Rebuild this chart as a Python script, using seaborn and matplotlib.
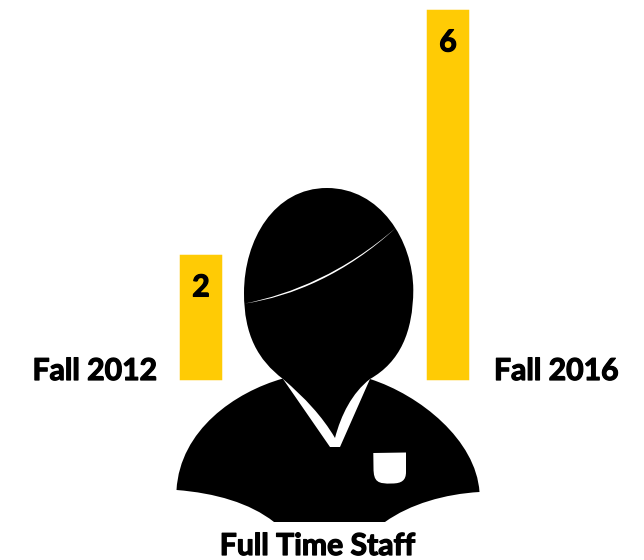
import matplotlib
matplotlib.use("Agg")
import matplotlib.pyplot as plt
import matplotlib.patheffects as pe
import pandas as pd
import seaborn as sns
from matplotlib.patches import PathPatch
from matplotlib.path import Path

semesters = ["Fall 2012", "Fall 2016"]
staff_counts = [2, 6]
group_label = "Full Time Staff"

MAIZE = "#FFCB05"
W, H = 644, 560
PX_PER_STAFF = 61.25
ZERO_PX = 378.75  # distance of the zero line from the top of the image
EDGE_PX = 2.5

sns.set_theme(style="white")
plt.rcParams["font.family"] = ["Lato", "DejaVu Sans"]

M, L, C, Z = Path.MOVETO, Path.LINETO, Path.CURVE4, Path.CLOSEPOLY

# the original face is heavier than Lato Bold, a thin stroke gets close
heavy = [pe.withStroke(linewidth=0.9, foreground="black")]
label_style = dict(fontsize=21.7, fontweight="bold", color="black", path_effects=heavy)


def curve_path(start, segments):
    # segments are either one point (line) or three points (bezier)
    verts, codes = [start], [M]
    for seg in segments:
        verts.extend(seg)
        codes.extend([L] if len(seg) == 1 else [C, C, C])
    verts.append(start)
    codes.append(Z)
    return Path(verts, codes)


df = pd.DataFrame({"semester": semesters, "count": staff_counts})

fig = plt.figure(figsize=(W / 100, H / 100), dpi=100)
ax = fig.add_axes([0, 0, 1, 1])
sns.barplot(data=df, x="semester", y="count", color=MAIZE, saturation=1, width=(42 - EDGE_PX) / 247,
            edgecolor=MAIZE, linewidth=EDGE_PX * 0.72, ax=ax)
ax.set_xlim(-201 / 247, (W - 201) / 247)
ax.set_ylim(-(H - ZERO_PX) / PX_PER_STAFF, ZERO_PX / PX_PER_STAFF)
ax.axis("off")
ax.bar_label(ax.containers[0], labels=[str(v) for v in staff_counts], padding=-32.5, **label_style)

# overlay in image pixels for the icon and the outer labels
icon = fig.add_axes([0, 0, 1, 1], facecolor="none")
icon.set_xlim(0, W)
icon.set_ylim(H, 0)
icon.axis("off")

body = curve_path((283, 378.5), [
    [(235, 392), (180, 430), (176.5, 490)],
    [(215, 493), (250, 503), (274, 522)],
    [(385, 522)],
    [(410, 504), (445, 494), (479.5, 492)],
    [(476, 440), (420, 395), (370, 379)],
])
collar = curve_path((283, 379), [[(330, 447)], [(340, 447)], [(370, 379)]])
head = curve_path((327, 188), [
    [(274, 188), (244, 240), (244, 293)],
    [(244, 335), (258, 360), (283, 379)],
    [(305, 398), (322, 416), (335, 438)],
    [(341, 415), (352, 393), (370, 379)],
    [(400, 362), (413, 332), (413.3, 290)],
    [(413, 240), (380, 188), (327, 188)],
])
hair_line = curve_path((245, 303.5), [
    [(292, 294), (345, 272), (396, 227.7)],
    [(346, 274), (292, 296.5), (245, 303.5)],
])
pocket = curve_path((373.3, 453), [
    [(406, 452.5)],
    [(406, 460), (406, 466), (406, 472)],
    [(406, 480), (402, 483.5), (392, 483.5)],
    [(378, 484), (373.5, 482), (373.5, 468)],
])
for path, colour in [(body, "black"), (collar, "white"), (head, "black"), (hair_line, "white"), (pocket, "white")]:
    icon.add_patch(PathPatch(path, facecolor=colour, edgecolor="none"))

icon.text(157, 380, semesters[0], ha="right", va="baseline", **label_style)
icon.text(494, 380, semesters[1], ha="left", va="baseline", **label_style)
icon.text(317.5, 555, group_label, ha="center", va="baseline", **label_style)

fig.savefig("out.png", dpi=100, facecolor="white")
